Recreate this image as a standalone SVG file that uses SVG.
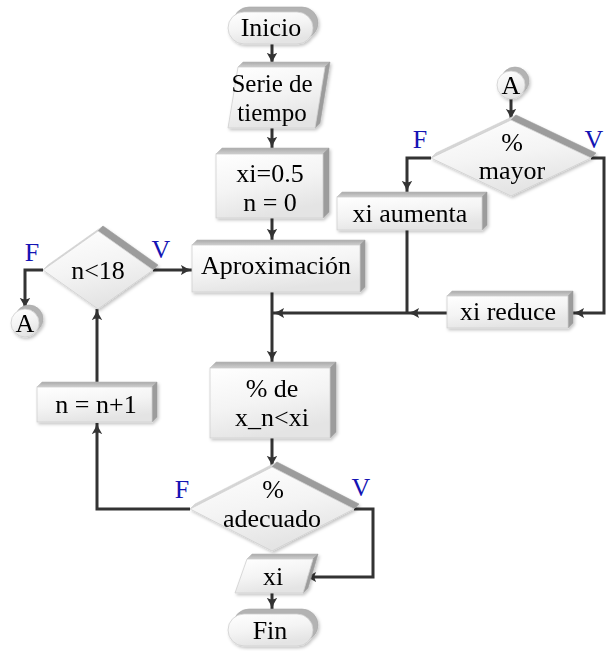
<svg xmlns="http://www.w3.org/2000/svg" width="606" height="651" viewBox="0 0 606 651">
<defs>
  <linearGradient id="face" x1="0" y1="0" x2="0.35" y2="1">
    <stop offset="0" stop-color="#ffffff"/>
    <stop offset="0.55" stop-color="#f4f4f4"/>
    <stop offset="1" stop-color="#e4e4e4"/>
  </linearGradient>
  <linearGradient id="topface" x1="0" y1="0" x2="0" y2="1">
    <stop offset="0" stop-color="#a9a9a9"/>
    <stop offset="1" stop-color="#cfcfcf"/>
  </linearGradient>
  <filter id="sh" x="-20%" y="-20%" width="140%" height="140%">
    <feDropShadow dx="1.5" dy="2" stdDeviation="1.8" flood-color="#000" flood-opacity="0.22"/>
  </filter>
  <marker id="arr" viewBox="0 0 10 10" refX="9.5" refY="5" markerWidth="12" markerHeight="12" markerUnits="userSpaceOnUse" orient="auto">
    <path d="M0,0.5 Q5,4 10,5 Q5,6 0,9.5 Q3,5 0,0.5 Z" fill="#333"/>
  </marker>
  <style>
    .t { font-family: "Liberation Serif", "DejaVu Serif", serif; font-size: 26px; fill: #000; text-anchor: middle; }
    .lab { font-family: "Liberation Serif", "DejaVu Serif", serif; font-size: 26px; fill: #1414b4; text-anchor: middle; }
    .front { fill: url(#face); stroke: #cfcfcf; stroke-width: 0.8; }
    .top { fill: url(#topface); stroke: #bdbdbd; stroke-width: 0.6; }
    .side { fill: #9c9c9c; stroke: #9c9c9c; stroke-width: 0.6; }
    .lite { fill: #d6d6d6; stroke: #cfcfcf; stroke-width: 0.6; }
    .back { fill: #b3b3b3; stroke: #a8a8a8; stroke-width: 0.6; }
    .node { filter: url(#sh); }
    .c { fill: none; stroke: #333; stroke-width: 3; stroke-linejoin: miter; }
    .ca { fill: none; stroke: #333; stroke-width: 3; marker-end: url(#arr); }
  </style>
</defs>

<g id="connectors">
  <path class="ca" d="M272,44 V64"/>
  <path class="ca" d="M272,128 V148"/>
  <path class="ca" d="M272,218 V240"/>
  <path class="ca" d="M272,292 V362"/>
  <path class="ca" d="M272,438 V467"/>
  <path class="ca" d="M354,509 H373 V577 H305"/>
  <path class="ca" d="M272,593 V609"/>
  <path class="ca" d="M190,509 H97 V423"/>
  <path class="ca" d="M97,382 V309"/>
  <path class="ca" d="M153,270 H192"/>
  <path class="ca" d="M43,270 H25 V309"/>
  <path class="ca" d="M511,99 V120"/>
  <path class="ca" d="M431,158 H407 V192"/>
  <path class="c" d="M407,230 V313"/>
  <path class="ca" d="M591,158 H604 V313 H573"/>
  <path class="ca" d="M447,313 H408"/>
  <path class="ca" d="M408,313 H273"/>
</g>

<g id="inicio" class="node">
  <rect class="back" x="233" y="7" width="85" height="32" rx="16"/>
  <rect class="front" x="228" y="12" width="85" height="32" rx="16"/>
  <text class="t" x="271" y="36">Inicio</text>
</g>

<g id="serie" class="node">
  <polygon class="top" points="238,67 243,62 330,62 325,67"/>
  <polygon class="side" points="325,67 330,62 320,123 315,128"/>
  <polygon class="front" points="238,67 325,67 315,128 228,128"/>
  <text class="t" x="272" y="92" style="font-size:25px">Serie de</text>
  <text class="t" x="272" y="121" style="font-size:25px">tiempo</text>
</g>

<g id="init" class="node">
  <polygon class="top" points="216,154 222,148 329,148 323,154"/>
  <polygon class="side" points="323,154 329,148 329,212 323,218"/>
  <rect class="front" x="216" y="154" width="107" height="64"/>
  <text class="t" x="270" y="182">xi=0.5</text>
  <text class="t" x="270" y="211">n = 0</text>
</g>

<g id="aprox" class="node">
  <polygon class="top" points="192,245 197,240 365,240 360,245"/>
  <polygon class="side" points="360,245 365,240 365,287 360,292"/>
  <rect class="front" x="192" y="245" width="168" height="47"/>
  <text class="t" x="276" y="274">Aproximación</text>
</g>

<g id="cond18" class="node">
  <polygon class="lite" points="43,270 98,231 103,226 48,265"/>
  <polygon class="side" points="98,231 153,270 158,265 103,226"/>
  <polygon class="front" points="98,231 153,270 98,309 43,270"/>
  <text class="t" x="98" y="279">n&lt;18</text>
</g>

<g id="conA1" class="node">
  <circle class="back" cx="29" cy="319" r="14"/>
  <circle class="front" cx="25" cy="323" r="14"/>
  <text class="t" x="25" y="332">A</text>
</g>

<g id="incr" class="node">
  <polygon class="top" points="37,387 42,382 157,382 152,387"/>
  <polygon class="side" points="152,387 157,382 157,417 152,422"/>
  <rect class="front" x="37" y="387" width="115" height="35"/>
  <text class="t" x="96" y="413">n = n+1</text>
</g>

<g id="conA2" class="node">
  <circle class="back" cx="515" cy="81" r="14"/>
  <circle class="front" cx="511" cy="85" r="14"/>
  <text class="t" x="511" y="94">A</text>
</g>

<g id="mayor" class="node">
  <polygon class="lite" points="431,158 511,120 516,115 436,153"/>
  <polygon class="side" points="511,120 591,158 596,153 516,115"/>
  <polygon class="front" points="511,120 591,158 511,196 431,158"/>
  <text class="t" x="512" y="151">%</text>
  <text class="t" x="512" y="179">mayor</text>
</g>

<g id="aumenta" class="node">
  <polygon class="top" points="337,197 342,192 487,192 482,197"/>
  <polygon class="side" points="482,197 487,192 487,225 482,230"/>
  <rect class="front" x="337" y="197" width="145" height="33"/>
  <text class="t" x="410" y="222">xi aumenta</text>
</g>

<g id="reduce" class="node">
  <polygon class="top" points="447,296 452,291 573,291 568,296"/>
  <polygon class="side" points="568,296 573,291 573,323 568,328"/>
  <rect class="front" x="447" y="296" width="121" height="32"/>
  <text class="t" x="508" y="320">xi reduce</text>
</g>

<g id="porc" class="node">
  <polygon class="top" points="210,368 216,362 336,362 330,368"/>
  <polygon class="side" points="330,368 336,362 336,432 330,438"/>
  <rect class="front" x="210" y="368" width="120" height="70"/>
  <text class="t" x="272" y="397">% de</text>
  <text class="t" x="272" y="426">x_n&lt;xi</text>
</g>

<g id="adecuado" class="node">
  <polygon class="lite" points="190,509 272,467 277,462 195,504"/>
  <polygon class="side" points="272,467 354,509 359,504 277,462"/>
  <polygon class="front" points="272,467 354,509 272,551 190,509"/>
  <text class="t" x="273" y="498">%</text>
  <text class="t" x="272" y="527">adecuado</text>
</g>

<g id="salida" class="node">
  <polygon class="top" points="247,559 252,554 318,554 313,559"/>
  <polygon class="side" points="313,559 318,554 308,588 303,593"/>
  <polygon class="front" points="247,559 313,559 303,593 235,593"/>
  <text class="t" x="273" y="585">xi</text>
</g>

<g id="fin" class="node">
  <rect class="back" x="233" y="609" width="85" height="32" rx="16"/>
  <rect class="front" x="228" y="614" width="85" height="32" rx="16"/>
  <text class="t" x="270" y="639">Fin</text>
</g>

<g id="labels">
  <text class="lab" x="32" y="261">F</text>
  <text class="lab" x="161" y="258">V</text>
  <text class="lab" x="420" y="148">F</text>
  <text class="lab" x="594" y="148">V</text>
  <text class="lab" x="182" y="498">F</text>
  <text class="lab" x="361" y="496">V</text>
</g>
</svg>
